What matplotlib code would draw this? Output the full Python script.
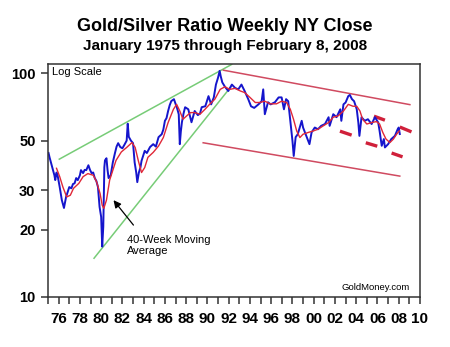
import matplotlib

matplotlib.use("Agg")
import matplotlib.pyplot as plt
from matplotlib.ticker import FixedLocator, NullLocator

plt.rcParams["font.family"] = ["Liberation Sans", "DejaVu Sans"]

# weekly NY close, gold/silver ratio (sampled)
ratio_year = [
    1975.05, 1975.15, 1975.3, 1975.45, 1975.6, 1975.68, 1975.8, 1975.9, 1976.1, 1976.3,
    1976.5, 1976.6, 1976.7, 1976.85, 1977.0, 1977.2, 1977.35, 1977.5, 1977.65, 1977.8,
    1978.0, 1978.1, 1978.3, 1978.45, 1978.6, 1978.8, 1978.95, 1979.1, 1979.25, 1979.4,
    1979.55, 1979.7, 1979.85, 1980.0, 1980.1, 1980.2, 1980.3, 1980.36, 1980.5, 1980.6,
    1980.7, 1980.9, 1981.1, 1981.3, 1981.45, 1981.6, 1981.8, 1982.0, 1982.2, 1982.4,
    1982.5, 1982.6, 1982.8, 1983.0, 1983.15, 1983.3, 1983.4, 1983.55, 1983.7, 1983.8,
    1984.1, 1984.3, 1984.6, 1984.9, 1985.15, 1985.4, 1985.7, 1985.85, 1986.0, 1986.15,
    1986.3, 1986.45, 1986.6, 1986.85, 1987.0, 1987.1, 1987.3, 1987.4, 1987.5, 1987.6,
    1987.75, 1987.9, 1988.2, 1988.4, 1988.5, 1988.65, 1988.8, 1989.1, 1989.3, 1989.46,
    1989.8, 1990.1, 1990.35, 1990.6, 1990.8, 1991.0, 1991.15, 1991.25, 1991.4, 1991.65,
    1991.96, 1992.3, 1992.6, 1992.9, 1993.2, 1993.5, 1993.84, 1994.1, 1994.4, 1994.8,
    1995.1, 1995.25, 1995.4, 1995.7, 1995.95, 1996.35, 1996.7, 1996.98, 1997.2, 1997.4,
    1997.6, 1997.8, 1998.0, 1998.12, 1998.3, 1998.5, 1998.87, 1999.0, 1999.3, 1999.6,
    1999.8, 2000.1, 2000.4, 2000.7, 2001.06, 2001.4, 2001.5, 2001.84, 2002.15, 2002.5,
    2002.6, 2002.8, 2003.0, 2003.25, 2003.4, 2003.6, 2003.8, 2004.05, 2004.2, 2004.3,
    2004.5, 2004.8, 2005.1, 2005.45, 2005.76, 2006.07, 2006.2, 2006.4, 2006.6, 2006.7,
    2007.0, 2007.3, 2007.64, 2007.9, 2008.0, 2008.1,
]
ratio = [
    44, 42, 39.5, 37, 35, 33.3, 36, 35, 31, 27.1,
    25, 26.5, 28, 29.5, 31, 30.6, 32, 32.2, 34, 33.3,
    35, 36.9, 35.8, 37, 36.9, 38.8, 37, 35.8, 36, 34,
    33, 31, 25.3, 22.8, 16.8, 20.6, 38, 40.8, 41.7, 37,
    34, 35, 40, 44, 47, 48.7, 46.8, 46.2, 48, 50,
    59.5, 52, 50, 48.7, 40, 36, 32.6, 36, 38, 40.6,
    45, 44, 46.8, 48.2, 47, 51.8, 53.4, 56, 61.3, 63,
    67.8, 72, 75.1, 76.6, 73, 71, 65.6, 48.2, 55, 60.4,
    66, 70.5, 69, 63, 60.4, 64, 67.8, 65, 66, 70.5,
    71.2, 79, 72.6, 78, 89, 95.6, 102.5, 97, 91, 87,
    83.3, 89, 86, 84.7, 89, 83.3, 76.6, 71.2, 70, 72.6,
    75, 84.7, 65.6, 74.2, 72.6, 74.2, 78, 78, 69, 76.6,
    75, 61.3, 49.9, 42.7, 51.8, 53.4, 61.3, 57.2, 52.5, 48.2,
    54.4, 57.2, 56.2, 58.2, 59.3, 63.6, 58.2, 65.6, 63.6, 69,
    61.3, 72.6, 74, 79, 80, 76.6, 75, 69, 60.2, 52.5,
    63.6, 61.3, 62.3, 59.3, 63.6, 60.2, 55.2, 47.4, 50.8, 46.6,
    48.2, 50.8, 52.5, 56.2, 57.2, 53.5,
]

# 40-week moving average
ma_year = [
    1975.8, 1976.1, 1976.4, 1976.76, 1977.1, 1977.4, 1977.9, 1978.3, 1978.75, 1979.26,
    1979.57, 1979.9, 1980.1, 1980.25, 1980.5, 1980.8, 1981.15, 1981.4, 1981.9, 1982.4,
    1982.9, 1983.2, 1983.5, 1983.8, 1984.1, 1984.4, 1984.9, 1985.4, 1985.85, 1986.3,
    1986.8, 1987.1, 1987.4, 1987.7, 1988.05, 1988.4, 1988.8, 1989.3, 1989.77, 1990.2,
    1990.7, 1991.2, 1991.65, 1992.1, 1992.6, 1993.1, 1993.5, 1994.0, 1994.5, 1994.9,
    1995.4, 1995.9, 1996.5, 1996.98, 1997.45, 1997.8, 1998.1, 1998.4, 1998.7, 1999.0,
    1999.5, 1999.95, 2000.4, 2000.9, 2001.4, 2001.84, 2002.3, 2002.8, 2003.25, 2003.7,
    2004.05, 2004.35, 2004.6, 2005.0, 2005.45, 2005.9, 2006.2, 2006.5, 2006.8, 2007.17,
    2007.5, 2007.8, 2008.05,
]
ma_ratio = [
    37.6, 34.5, 31, 28, 28.5, 30.6, 32.2, 34.5, 35.6, 35,
    32.7, 29, 25.7, 24.9, 27.1, 33.3, 37.5, 40.8, 44.5, 46.6,
    49, 46.6, 40.6, 36, 37.9, 42.1, 44.3, 47.3, 51.6, 60.2,
    69, 72.6, 67.8, 62.3, 64.5, 66.7, 66.7, 65.6, 69, 72.6,
    76.6, 84.7, 87, 84.7, 85.6, 83.3, 82, 78, 74, 74,
    75, 73, 73, 75, 74, 69, 62.3, 55.2, 51.6, 53.4,
    54.4, 55.2, 56.2, 58.2, 60.2, 63.6, 64.5, 67.8, 72.6, 71.2,
    71.2, 67.8, 62.3, 59.3, 60.2, 60.8, 59.3, 54.4, 50.8, 49,
    50.8, 53.4, 55.2,
]

# trend lines: (start year, start ratio, end year, end ratio)
green_lines = [
    (1976.06, 41.3, 1992.28, 109.5),
    (1979.33, 14.9, 1992.25, 87.5),
]
channel_lines = [
    (1991.5, 103.2, 2009.05, 72.4),
    (1989.6, 48.9, 2008.1, 34.7),
]
dash_segments = [
    (2002.47, 55.1, 2003.57, 52.9),
    (2004.9, 48.9, 2005.98, 47.2),
    (2007.33, 44.0, 2008.36, 42.3),
    (2005.67, 64.3, 2006.7, 61.7),
    (2008.1, 57.5, 2009.2, 54.7),
]

y_ticks = [10, 20, 30, 50, 100]

fig = plt.figure(figsize=(4.5, 3.47), dpi=100)
ax = fig.add_axes([0.1067, 0.1441, 0.8266, 0.6715])

for x0, y0, x1, y1 in green_lines:
    ax.plot([x0, x1], [y0, y1], color="#77cc77", lw=1.1, zorder=1)
for x0, y0, x1, y1 in channel_lines:
    ax.plot([x0, x1], [y0, y1], color="#d04a60", lw=1.1, zorder=1)
for x0, y0, x1, y1 in dash_segments:
    ax.plot([x0, x1], [y0, y1], color="#d0203a", lw=2.4, solid_capstyle="butt", zorder=1)

ax.plot(ratio_year, ratio, color="#1515cc", lw=1.4, zorder=2)
ax.plot(ma_year, ma_ratio, color="#e02838", lw=1.0, zorder=3)

ax.set_yscale("log")
ax.set_ylim(10, 110)
ax.yaxis.set_major_locator(FixedLocator(y_ticks))
ax.yaxis.set_minor_locator(NullLocator())
ax.set_yticklabels([str(v) for v in y_ticks])

ax.set_xlim(1975, 2010)
even_years = list(range(1976, 2011, 2))
ax.xaxis.set_major_locator(FixedLocator(even_years))
ax.xaxis.set_minor_locator(FixedLocator(list(range(1975, 2011, 2))))
ax.set_xticklabels([f"{y % 100:02d}" for y in even_years])

ax.tick_params(which="both", direction="out", length=5, width=1.1, color="#333333")
ax.tick_params(axis="y", labelsize=10.5, pad=4)
ax.tick_params(axis="x", labelsize=11, pad=6)
for lbl in ax.get_xticklabels() + ax.get_yticklabels():
    lbl.set_fontweight("bold")
for sp in ax.spines.values():
    sp.set_color("#333333")
    sp.set_linewidth(1.1)

ax.text(0.012, 0.985, "Log Scale", transform=ax.transAxes, ha="left", va="top", fontsize=8)
ax.text(0.973, 0.022, "GoldMoney.com", transform=ax.transAxes, ha="right", va="bottom",
        fontsize=6.8)

ax.annotate("", xy=(1981.0, 27.7), xytext=(1983.2, 20.5),
            arrowprops=dict(arrowstyle="-|>", color="black", lw=0.9, mutation_scale=11))
ax.text(1982.4, 19.0, "40-Week Moving\nAverage", ha="left", va="top", fontsize=8,
        linespacing=1.15)

fig.text(0.5, 0.925, "Gold/Silver Ratio Weekly NY Close", ha="center", va="center",
         fontsize=13, fontweight="bold")
fig.text(0.5, 0.866, "January 1975 through February 8, 2008", ha="center", va="center",
         fontsize=11, fontweight="bold")

fig.savefig("out.png", dpi=100)
